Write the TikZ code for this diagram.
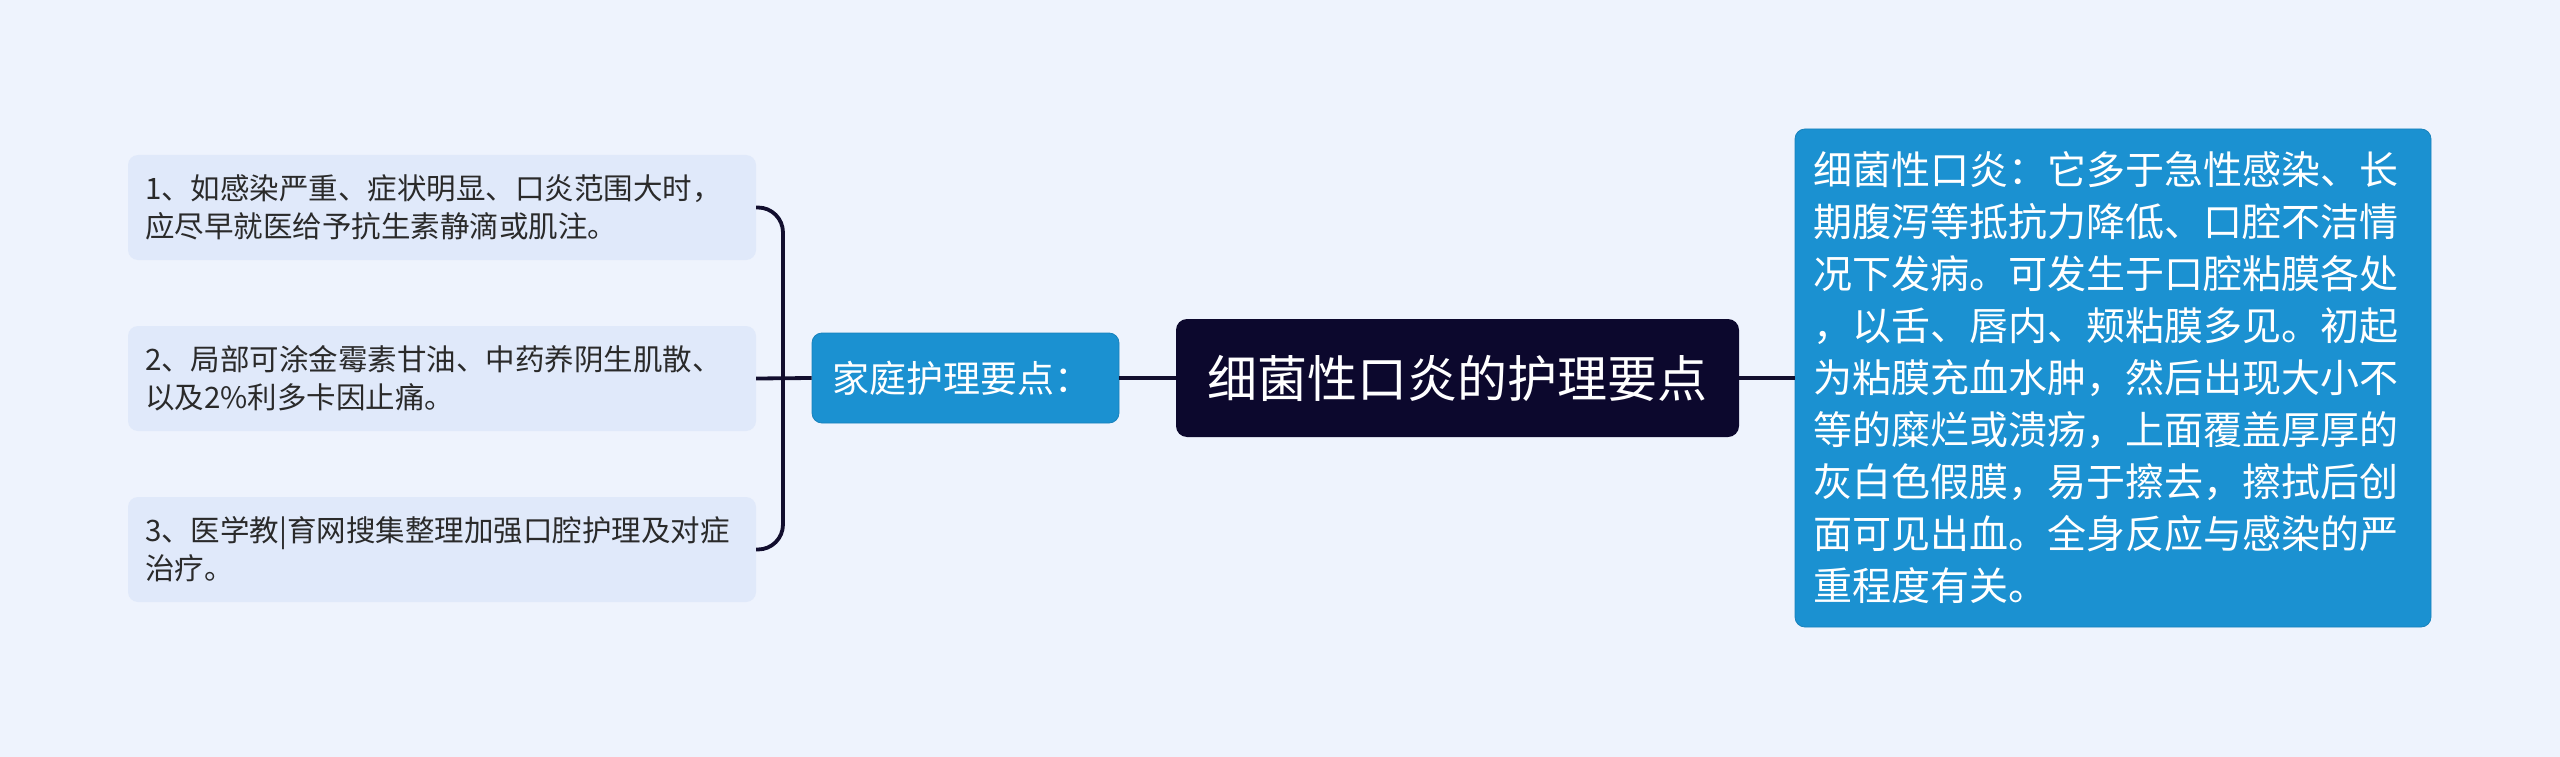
\documentclass[tikz,border=0pt]{standalone}
\usepackage{fontspec}
\setmainfont{Noto Sans CJK SC}
\definecolor{bgc}{HTML}{EEF3FD}
\definecolor{leafc}{HTML}{E0E9FA}
\definecolor{bluec}{HTML}{1B91D1}
\definecolor{darkc}{HTML}{0C082D}
\definecolor{linec}{HTML}{120E2E}
\definecolor{txtc}{HTML}{2A2A2A}
\tikzset{
  leaf/.style={rectangle, rounded corners=10pt, fill=leafc, text=txtc,
    minimum width=628pt, minimum height=105pt, text width=594pt, inner xsep=17pt, inner ysep=0pt,
    align=left, font=\fontsize{29.5pt}{38pt}\selectfont},
  sub/.style={rectangle, rounded corners=10pt, fill=bluec, draw=bluec!90!black, line width=0.8pt, text=white,
    minimum width=307pt, minimum height=90pt, text width=267pt, inner xsep=20pt, inner ysep=0pt,
    align=left, font=\fontsize{37pt}{44pt}\selectfont},
  root/.style={rectangle, rounded corners=11pt, fill=darkc, text=white,
    minimum width=563pt, minimum height=118pt, inner sep=0pt,
    font=\fontsize{50pt}{60pt}\selectfont},
  desc/.style={rectangle, rounded corners=10pt, fill=bluec, draw=bluec!90!black, line width=0.8pt, text=white,
    minimum width=636pt, minimum height=498pt, text width=600pt, inner xsep=18pt, inner ysep=0pt,
    align=left, font=\fontsize{39pt}{52pt}\selectfont},
  conn/.style={draw=linec, line width=3.8pt}
}
\begin{document}
\begin{tikzpicture}[x=1pt,y=-1pt]
\fill[bgc] (0,0) rectangle (2560,757);
\useasboundingbox (0,0) rectangle (2560,757);
\node[leaf] (b1) at (442,207.5) {1、如感染严重、症状明显、口炎范围大时，\\应尽早就医给予抗生素静滴或肌注。};
\node[leaf] (b2) at (442,378.5) {2、局部可涂金霉素甘油、中药养阴生肌散、\\以及2\%利多卡因止痛。};
\node[leaf] (b3) at (442,549.5) {3、医学教|育网搜集整理加强口腔护理及对症\\治疗。};
\node[sub] (home) at (965.5,378) {家庭护理要点：};
\node[root] (root) at (1457.5,378) {细菌性口炎的护理要点};
\node[desc] (desc) at (2113,378) {细菌性口炎：它多于急性感染、长\\期腹泻等抵抗力降低、口腔不洁情\\况下发病。可发生于口腔粘膜各处\\，以舌、唇内、颊粘膜多见。初起\\为粘膜充血水肿，然后出现大小不\\等的糜烂或溃疡，上面覆盖厚厚的\\灰白色假膜，易于擦去，擦拭后创\\面可见出血。全身反应与感染的严\\重程度有关。};
\coordinate (brk) at (783,378);
\draw[conn, rounded corners=25pt] (b1.east) -| (brk) |- (b3.east);
\draw[conn] (b2.east) -- (home.west);
\draw[conn] (home.east) -- (root.west);
\draw[conn] (root.east) -- (desc.west);
\end{tikzpicture}
\end{document}
